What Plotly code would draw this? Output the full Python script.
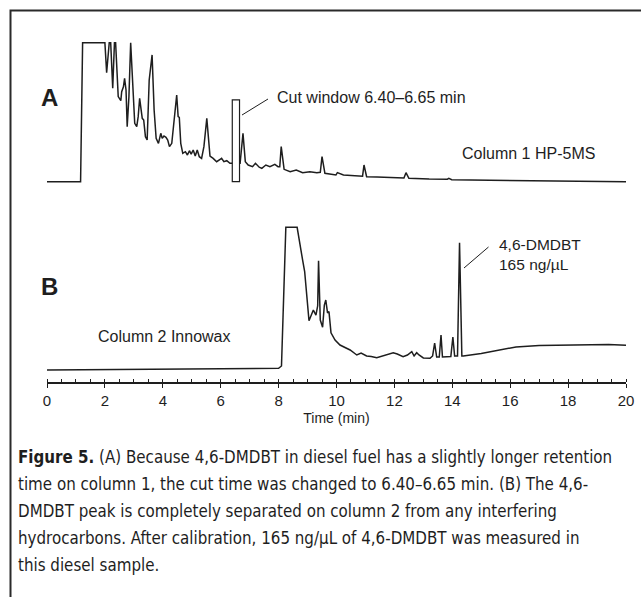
import plotly.graph_objects as go

# ---- Data ----
# Chromatogram A (column 1 HP-5MS), signal as % of full scale
time_a = [0, 1.16, 1.23, 2.0, 2.06, 2.15, 2.2, 2.27, 2.33, 2.37, 2.46, 2.55, 2.58, 2.64, 2.68,
          2.73, 2.77, 2.83, 2.89, 2.96, 3.03, 3.10, 3.15, 3.20, 3.25, 3.29, 3.34, 3.40, 3.46,
          3.53, 3.63, 3.70, 3.77, 3.85, 3.93, 3.98, 4.04, 4.11, 4.17, 4.23, 4.31, 4.39, 4.48,
          4.53, 4.57, 4.62, 4.69, 4.78, 4.85, 4.92, 4.98, 5.05, 5.12, 5.19, 5.26, 5.34, 5.42,
          5.52, 5.57, 5.63, 5.74, 5.86, 5.98, 6.03, 6.11, 6.21, 6.32, 6.50, 6.67, 6.77, 6.85,
          6.95, 7.10, 7.20, 7.33, 7.42, 7.56, 7.70, 7.87, 7.98, 8.04, 8.09, 8.19, 8.40, 8.61,
          8.83, 9.08, 9.32, 9.44, 9.50, 9.60, 9.98, 10.03, 10.24, 10.52, 10.80, 10.90, 10.95,
          11.04, 11.40, 11.79, 12.33, 12.40, 12.50, 13.2, 13.83, 13.88, 13.98, 15.3, 20.0]
signal_a = [0, 0, 100, 100, 78.4, 100, 100, 67.2, 100, 100, 61.2, 58.3, 64.7, 68.3, 74.4,
            66.0, 39.6, 61.2, 100, 68.3, 42.0, 39.6, 46.8, 60.0, 51.6, 45.6, 44.4, 32.4, 30.0,
            73.2, 91.2, 51.6, 31.2, 27.6, 34.8, 31.2, 32.9, 31.9, 30.0, 25.2, 27.6, 42.0, 62.4,
            46.8, 46.3, 27.6, 20.4, 21.6, 19.2, 22.3, 19.9, 22.8, 18.5, 22.8, 18.0, 16.8, 25.2,
            45.6, 30.0, 18.5, 16.8, 14.4, 16.1, 16.8, 14.4, 15.1, 13.2, 13.2, 13.2, 34.8, 14.4,
            12.0, 10.8, 13.2, 10.4, 9.6, 12.0, 10.8, 12.5, 10.8, 10.8, 25.2, 8.9, 7.2, 8.4,
            6.5, 7.2, 6.5, 6.8, 18.0, 6.0, 4.8, 6.5, 4.8, 4.3, 4.1, 4.0, 12.0,
            3.6, 3.4, 2.9, 2.7, 6.5, 2.4, 1.9, 1.8, 2.4, 1.4, 1.0, 0]

# Chromatogram B (column 2 Innowax), signal as % of full scale
time_b = [0, 8.0, 8.1, 8.25, 8.64, 8.72, 8.83, 8.9, 9.05, 9.2, 9.29, 9.35, 9.38, 9.44, 9.52,
          9.58, 9.63, 9.69, 9.74, 9.81, 9.95, 10.12, 10.3, 10.47, 10.7, 10.85, 11.04, 11.2,
          11.39, 11.6, 11.8, 11.96, 12.1, 12.3, 12.45, 12.6, 12.68, 12.77, 12.85, 13.0, 13.23,
          13.32, 13.39, 13.46, 13.55, 13.61, 13.66, 13.95, 14.02, 14.08, 14.18, 14.25, 14.33,
          14.38, 15.0, 15.65, 16.2, 17.0, 18.0, 19.0, 19.4, 20.0]
signal_b = [0, 1.2, 2.8, 100, 100, 89, 77, 69, 34.5, 42, 38.5, 45, 76.6, 35, 30,
            45.5, 49, 40, 40.9, 26, 21, 17.5, 15.4, 14, 10.5, 11.9, 9.8, 9.5,
            8.6, 9.8, 11.2, 12.1, 11.2, 9.3, 10.5, 12.8, 9.8, 12.1, 10.5, 8.4, 8.2,
            9.8, 18.9, 9.1, 9.1, 24.5, 9.1, 9.5, 23.1, 9.8, 9.8, 89.2, 9.8,
            9.8, 11.6, 14, 16.1, 17.2, 17.5, 17.5, 17.9, 17.3]

cut_window = [6.40, 6.65]
x_ticks = [0, 2, 4, 6, 8, 10, 12, 14, 16, 18, 20]

caption_lines = [
    "<b>Figure 5.</b> (A) Because 4,6-DMDBT in diesel fuel has a slightly longer retention",
    "time on column 1, the cut time was changed to 6.40–6.65 min. (B) The 4,6-",
    "DMDBT peak is completely separated on column 2 from any interfering",
    "hydrocarbons. After calibration, 165 ng/µL of 4,6-DMDBT was measured in",
    "this diesel sample.",
]

# ---- Layout geometry (pixels) ----
W, H = 641, 597
L, R, T, B = 47, 15, 0, 214
PW, PH = W - L - R, H - T - B


def px(x):
    return (x - L) / PW


def py(y):
    return (H - B - y) / PH


INK = "#1e1e1e"
FONT = "Liberation Sans, Arial, sans-serif"
CAPFONT = "DejaVu Sans Condensed, DejaVu Sans, sans-serif"

fig = go.Figure()
fig.add_trace(go.Scatter(x=time_a, y=signal_a, mode="lines", xaxis="x", yaxis="y",
                         line=dict(color=INK, width=1.5), hoverinfo="skip"))
fig.add_trace(go.Scatter(x=time_b, y=signal_b, mode="lines", xaxis="x", yaxis="y2",
                         line=dict(color=INK, width=1.5), hoverinfo="skip"))

shapes = [
    # cut window rectangle
    dict(type="rect", xref="x", yref="y", x0=cut_window[0], x1=cut_window[1], y0=0, y1=58.8,
         line=dict(color=INK, width=1.2), fillcolor="white", layer="above"),
    # leader lines
    dict(type="line", xref="paper", yref="paper", x0=px(242), y0=py(115), x1=px(268), y1=py(99),
         line=dict(color=INK, width=1)),
    dict(type="line", xref="paper", yref="paper", x0=px(464), y0=py(268), x1=px(488.5), y1=py(247),
         line=dict(color=INK, width=1)),
    # frame border
    dict(type="path", xref="paper", yref="paper",
         path=f"M {px(10.5)} {py(600)} L {px(10.5)} {py(10.5)} L {px(645)} {py(10.5)}",
         line=dict(color="#2a2a2a", width=2)),
]

annotations = [
    dict(text="<b>A</b>", x=px(39), y=py(97), font=dict(size=24, family=FONT, color=INK)),
    dict(text="<b>B</b>", x=px(39), y=py(286), font=dict(size=24, family=FONT, color=INK)),
    dict(text="Cut window 6.40–6.65 min", x=px(275), y=py(98), xanchor="left",
         font=dict(size=16, family=FONT, color=INK)),
    dict(text="Column 1 HP-5MS", x=px(460), y=py(153), xanchor="left",
         font=dict(size=16, family=FONT, color=INK)),
    dict(text="Column 2 Innowax", x=px(96), y=py(336), xanchor="left",
         font=dict(size=16, family=FONT, color=INK)),
    dict(text="4,6-DMDBT<br>165 ng/µL", x=px(497), y=py(254), xanchor="left", align="left",
         font=dict(size=15.5, family=FONT, color=INK)),
]
cap_y = [457, 484, 511, 538, 565]
for line, yy in zip(caption_lines, cap_y):
    annotations.append(dict(text=line, x=px(16), y=py(yy), xanchor="left", align="left",
                            font=dict(size=16.8, family=CAPFONT, color=INK)))
for a in annotations:
    a.setdefault("xref", "paper")
    a.setdefault("yref", "paper")
    a.setdefault("showarrow", False)
    a.setdefault("yanchor", "middle")

fig.update_layout(
    width=W, height=H,
    margin=dict(l=L, r=R, t=T, b=B),
    paper_bgcolor="white", plot_bgcolor="white",
    showlegend=False,
    xaxis=dict(range=[0, 20], anchor="free", position=0, tickmode="array", tickvals=x_ticks,
               ticks="outside", ticklen=4, tickcolor=INK, tickwidth=1.2,
               minor=dict(dtick=0.5, ticks="inside", ticklen=3, tickcolor=INK),
               showline=True, linecolor=INK, linewidth=1.5, showgrid=False, zeroline=False,
               tickfont=dict(size=15, family=FONT, color=INK),
               title=dict(text="Time (min)", font=dict(size=14, family=FONT, color=INK), standoff=4)),
    yaxis=dict(range=[-5, 105], domain=[py(188.65), py(35.75)], visible=False),
    yaxis2=dict(range=[-5, 105], domain=[py(377.1), py(220.2)], visible=False, anchor="x"),
    shapes=shapes,
    annotations=annotations,
)

fig.write_html("out.html")
